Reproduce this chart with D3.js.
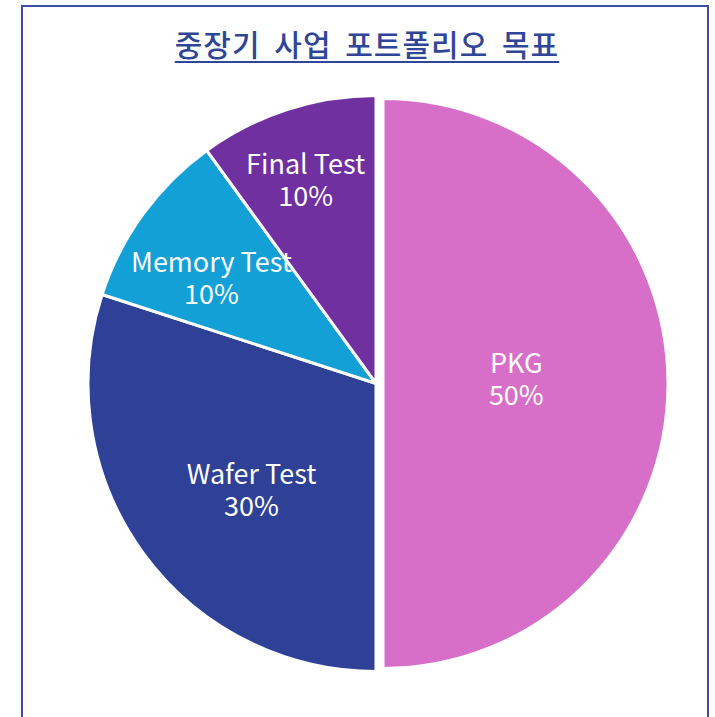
<!DOCTYPE html>
<html>
<head>
<meta charset="utf-8">
<script src="https://cdn.jsdelivr.net/npm/d3@7"></script>
<style>
  body { margin: 0; background: #fff; }
  svg { display: block; }
</style>
</head>
<body>
<div id="chart"></div>
<script>
// chart data
var categories = ["PKG", "Wafer Test", "Memory Test", "Final Test"];
var shares = [50, 30, 10, 10];
var sliceColors = ["#d76fc8", "#2e4196", "#12a0d7", "#7130a0"];
var titleText = "중장기 사업 포트폴리오 목표";

// label placement (angle clockwise from 12 o'clock, fraction of radius)
var labelAngle = [88.5, 229.3, 302.3, 340.8];
var labelFrac = [0.463, 0.57, 0.676, 0.743];
var explode = [7, 0, 0, 0];

const width = 715;
const height = 717;
const cx = 376, cy = 383.5;
const radius = 288;

var svg = d3.select("#chart").append("svg")
  .attr("width", width)
  .attr("height", height);

// frame
svg.append("rect")
  .attr("x", 22).attr("y", 6)
  .attr("width", 686).attr("height", 760)
  .attr("fill", "none")
  .attr("stroke", "#3b4ea6")
  .attr("stroke-width", 2);

// title
var title = svg.append("text")
  .attr("x", 367)
  .attr("y", 56)
  .attr("text-anchor", "middle")
  .attr("font-family", "'Noto Sans CJK KR', sans-serif")
  .attr("font-size", 30)
  .attr("font-weight", 500)
  .attr("letter-spacing", 1)
  .attr("word-spacing", 6)
  .attr("fill", "#2f4597")
  .text(titleText);

var tb = title.node().getBBox();
svg.append("line")
  .attr("x1", tb.x).attr("x2", tb.x + tb.width)
  .attr("y1", 62).attr("y2", 62)
  .attr("stroke", "#2f4597")
  .attr("stroke-width", 2);

var pie = d3.pie().sort(null).value(d => d.value);
var data = categories.map((c, i) => ({ name: c, value: shares[i], idx: i }));
var arcs = pie(data);

var arc = d3.arc().innerRadius(0);

var g = svg.append("g").attr("transform", "translate(" + cx + "," + cy + ")");

g.selectAll("path")
  .data(arcs)
  .enter()
  .append("path")
  .attr("transform", function (d) {
    var mid = (d.startAngle + d.endAngle) / 2;
    var off = explode[d.data.idx];
    return "translate(" + (Math.sin(mid) * off) + "," + (-Math.cos(mid) * off) + ")";
  })
  .attr("d", d => arc.outerRadius(d.data.idx === 0 ? radius - 3 : radius)(d))
  .attr("fill", d => sliceColors[d.data.idx])
  .attr("stroke", "#fff")
  .attr("stroke-width", 3)
  .attr("stroke-linejoin", "miter");

var labels = g.selectAll("text.lbl")
  .data(arcs)
  .enter()
  .append("text")
  .attr("class", "lbl")
  .attr("text-anchor", "middle")
  .attr("font-family", "'Noto Sans CJK KR', sans-serif")
  .attr("font-size", 27)
  .attr("fill", "#fff")
  .attr("transform", function (d) {
    var a = labelAngle[d.data.idx] * Math.PI / 180;
    var r = labelFrac[d.data.idx] * radius;
    var off = explode[d.data.idx];
    var x = Math.sin(a) * r + Math.sin((d.startAngle + d.endAngle) / 2) * off;
    var y = -Math.cos(a) * r;
    return "translate(" + x + "," + y + ")";
  });

labels.append("tspan")
  .attr("x", 0).attr("y", -7)
  .text(d => d.data.name);
labels.append("tspan")
  .attr("x", 0).attr("y", 25)
  .text(d => d.data.value + "%");
</script>
</body>
</html>
